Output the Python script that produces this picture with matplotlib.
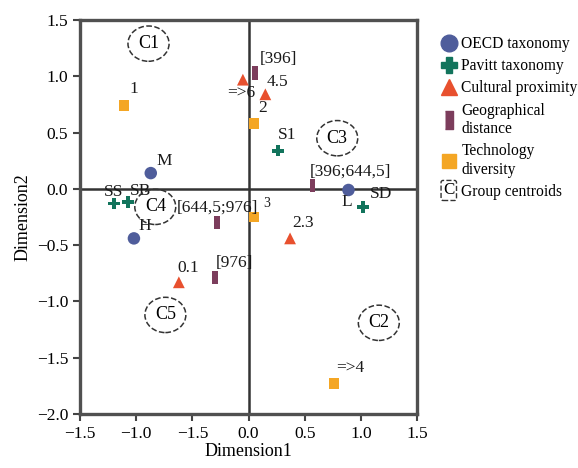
import matplotlib
matplotlib.use("Agg")
import matplotlib.pyplot as plt
from matplotlib.legend_handler import HandlerBase
from matplotlib.lines import Line2D
from matplotlib.text import Text

plt.rcParams["font.family"] = ["Liberation Serif", "DejaVu Serif"]

# ---- data ----
oecd_x = [-0.87, 0.89, -1.02]
oecd_y = [0.14, -0.01, -0.44]
oecd_labels = ["M", "L", "H"]

pavitt_x = [0.26, 1.02, -1.20, -1.07]
pavitt_y = [0.34, -0.16, -0.13, -0.12]
pavitt_labels = ["S1", "SD", "SS", "SB"]

cultural_x = [-0.05, 0.15, 0.37, -0.62]
cultural_y = [0.97, 0.84, -0.44, -0.83]
cultural_labels = ["=>6", "4.5", "2.3", "0.1"]

geo_x = [0.06, 0.57, -0.28, -0.30]
geo_y = [1.03, 0.03, -0.30, -0.79]
geo_labels = ["[396]", "[396;644,5]", "[644,5;976]", "[976]"]

tech_x = [-1.11, 0.05, 0.05, 0.76]
tech_y = [0.74, 0.58, -0.25, -1.73]
tech_labels = ["1", "2", "3", "=>4"]

centroid_x = [-0.89, 1.16, 0.79, -0.83, -0.74]
centroid_y = [1.29, -1.19, 0.45, -0.16, -1.12]
centroid_labels = ["C1", "C2", "C3", "C4", "C5"]

x_ticks = [-1.5, -1.0, -0.5, 0.0, 0.5, 1.0, 1.5]
x_ticklabels = ["\u22121.5", "\u22121.0", "\u22121.5", "0.0", "0.5", "1.0", "1.5"]
y_ticks = [1.5, 1.0, 0.5, 0.0, -0.5, -1.0, -1.5, -2.0]

# label offsets in points (dx, dy)
offsets = {
    "M": (10, 8.5), "L": (-1, -9), "H": (8, 9),
    "S1": (7, 11), "SD": (13, 9), "SS": (0, 8.5), "SB": (8.5, 8),
    "=>6": (-1, -9.5), "4.5": (9, 9), "2.3": (9.5, 11), "0.1": (7, 10),
    "[396]": (16.5, 10), "[396;644,5]": (27, 10), "[644,5;976]": (0, 11), "[976]": (14, 11),
    "1": (7, 12), "2": (6, 11), "3": (9, 10), "=>4": (12, 11),
}

geo_marker = [(-0.45, -1), (0.45, -1), (0.45, 1), (-0.45, 1)]
series = [
    (oecd_x, oecd_y, oecd_labels, "OECD taxonomy", "o", "#4f5d9b", 9),
    (pavitt_x, pavitt_y, pavitt_labels, "Pavitt taxonomy", "P", "#12745c", 8.5),
    (cultural_x, cultural_y, cultural_labels, "Cultural proximity", "^", "#e8502e", 8.5),
    (geo_x, geo_y, geo_labels, "Geographical\ndistance", geo_marker, "#7c3d5c", 9.5),
    (tech_x, tech_y, tech_labels, "Technology\ndiversity", "s", "#f4a624", 7.5),
]


class CentroidHandler(HandlerBase):
    def create_artists(self, legend, orig_handle, xdescent, ydescent,
                       width, height, fontsize, trans):
        t = Text(width / 2 - xdescent, height / 2 - ydescent, "C",
                 ha="center", va="center", fontsize=fontsize + 1, transform=trans,
                 bbox=dict(boxstyle="round,pad=0.12", fc="none", ec="#333333",
                           ls="--", lw=1))
        return [t]


fig = plt.figure(figsize=(5.78, 4.68), dpi=100)
ax = fig.add_axes([80 / 578, 1 - 414 / 468, 337 / 578, 394 / 468])

ax.axhline(0, color="#333333", lw=1.8, zorder=1)
ax.axvline(0, color="#333333", lw=1.8, zorder=1)

handles = []
for xs, ys, labels, name, marker, color, size in series:
    ax.scatter(xs, ys, marker=marker, s=size ** 2, color=color, zorder=3,
               edgecolors="none")
    handles.append(Line2D([], [], ls="none", marker=marker, color=color,
                          markersize=size + 3, label=name))
    for x, y, lab in zip(xs, ys, labels):
        fs = 10 if lab == "3" else 12.5
        ax.annotate(lab, (x, y), xytext=offsets[lab], textcoords="offset points",
                    ha="center", va="center", fontsize=fs, color="#1a1a1a", zorder=4)

for x, y, lab in zip(centroid_x, centroid_y, centroid_labels):
    ax.text(x, y, lab, ha="center", va="center", fontsize=13, zorder=4,
            bbox=dict(boxstyle="ellipse,pad=0.22", fc="none", ec="#333333",
                      ls="--", lw=1.1))

centroid_handle = Line2D([], [], label="Group centroids")
handles.append(centroid_handle)

ax.set_xlim(-1.5, 1.5)
ax.set_ylim(-2.0, 1.5)
ax.set_xticks(x_ticks)
ax.set_xticklabels(x_ticklabels)
ax.set_yticks(y_ticks)
ax.set_yticklabels([f"{v:.1f}".replace("-", "\u2212") for v in y_ticks])
ax.tick_params(direction="out", length=5, width=1.5, color="#444444",
               labelsize=12.5)
for sp in ax.spines.values():
    sp.set_linewidth(2.4)
    sp.set_color("#505050")
ax.set_xlabel("Dimension1", fontsize=13, labelpad=1)
ax.set_ylabel("Dimension2", fontsize=13, labelpad=4)

fig.legend(handles=handles, handler_map={centroid_handle: CentroidHandler()},
           loc="upper left", bbox_to_anchor=(441 / 578, 1 - 36 / 468),
           frameon=False, fontsize=11.2, handlelength=1.0, handletextpad=0.3,
           labelspacing=0.4, borderaxespad=0, borderpad=0)

fig.savefig("out.png", dpi=100)
